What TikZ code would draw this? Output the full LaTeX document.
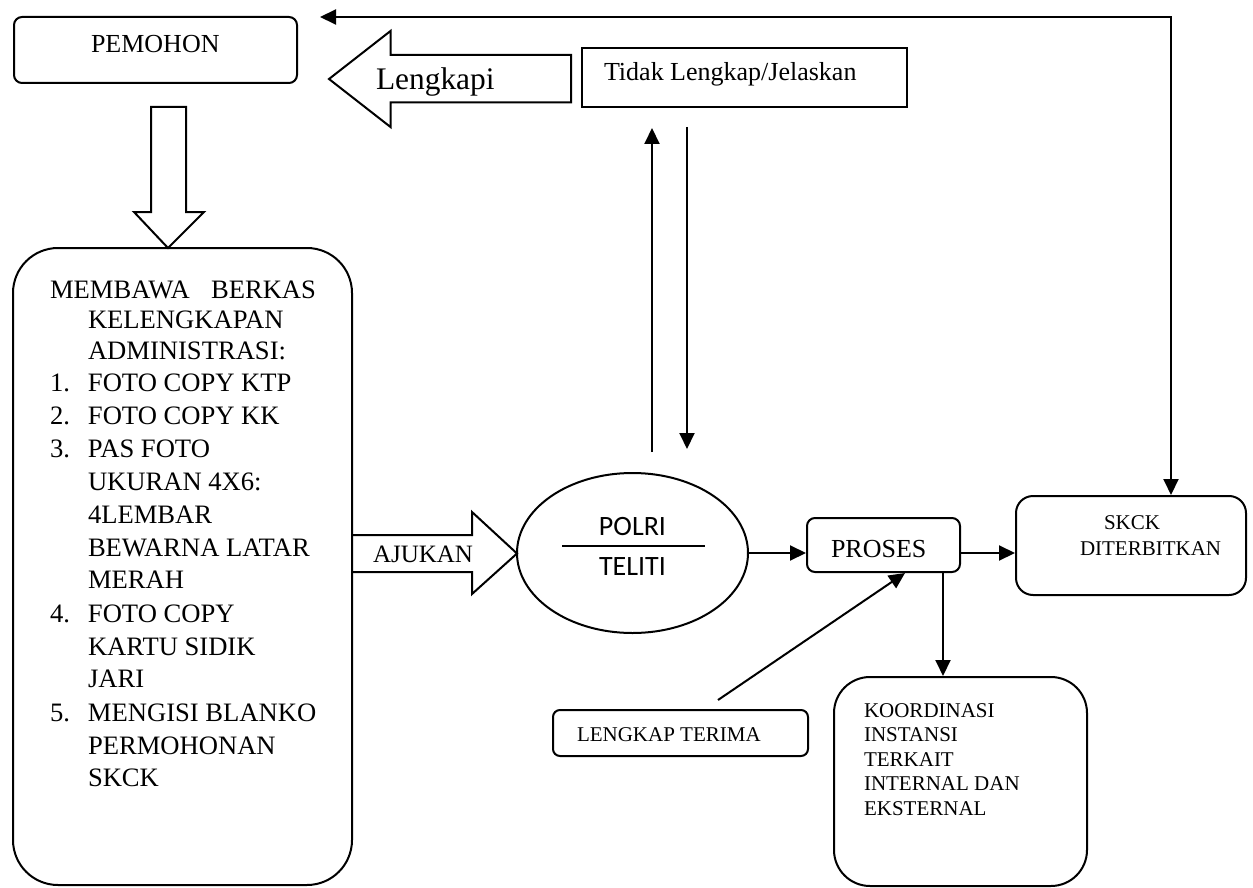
\documentclass[tikz,border=0pt]{standalone}
\usepackage{fontspec}
\setmainfont{Liberation Serif}
\newfontfamily\calibri{Carlito}
\usetikzlibrary{arrows.meta, shapes.geometric}

\begin{document}
\begin{tikzpicture}[x=0.5pt, y=-0.5pt, line width=1pt,
    kotak/.style={draw, rounded corners=#1, inner sep=0pt},
    kotak/.default=4pt,
    panah/.style={-{Triangle[length=8pt, width=7.5pt]}},
    teks/.style={anchor=base west, inner sep=0pt, align=left},
    kecil/.style={font=\fontsize{10.5}{12.25}\selectfont},
    besar/.style={font=\fontsize{13}{15}\selectfont}]
        \useasboundingbox (0,0) rectangle (1253,888);

        % kotak-kotak
        \node[kotak, minimum width=141.5pt, minimum height=33pt] (pemohon) at (155.5,50) {};
        \node[kotak=22.5pt, minimum width=169.5pt, minimum height=318.5pt] (berkas) at (182.5,566.5) {};
        \node[draw, inner sep=0pt, minimum width=162.5pt, minimum height=29.5pt] (tidak) at (744.5,77.5) {};
        \node[draw, ellipse, inner sep=0pt, minimum width=115.5pt, minimum height=80pt] (polri) at (632.5,553) {};
        \node[kotak, minimum width=76.5pt, minimum height=27pt] (proses) at (883.5,545) {};
        \node[kotak=8.5pt, minimum width=115pt, minimum height=49.5pt] (skck) at (1131,545.5) {};
        \node[kotak=3.5pt, minimum width=127.5pt, minimum height=23pt] (terima) at (680.5,733) {};
        \node[kotak=18pt, minimum width=126.5pt, minimum height=104.5pt] (koord) at (960.5,781.5) {};

        % teks
        \node[teks, besar] (tpemohon) at (90,53) {PEMOHON};
        \node[teks, font=\fontsize{13.3}{16.5}\selectfont] (daftar) at (49,298) {%
            \begin{tabular}[t]{@{}p{19pt}@{}l@{}}
            \multicolumn{2}{@{}l@{}}{\makebox[133pt][s]{MEMBAWA BERKAS}}\\[-1.25pt]
            & KELENGKAPAN\\[-1.25pt]
            & ADMINISTRASI:\\[-0.5pt]
            1. & FOTO COPY KTP\\
            2. & FOTO COPY KK\\
            3. & PAS FOTO\\
            & UKURAN 4X6:\\
            & 4LEMBAR\\
            & BEWARNA LATAR\\
            & MERAH\\
            4. & FOTO COPY\\
            & KARTU SIDIK\\
            & JARI\\
            5. & MENGISI BLANKO\\
            & PERMOHONAN\\
            & SKCK
            \end{tabular}};
        \node[teks, besar] (ttidak) at (603,81) {Tidak Lengkap/Jelaskan};
        \node[teks, font=\fontsize{15.7}{18}\selectfont] (lengkapi) at (375,90) {Lengkapi};
        \node[teks, font=\fontsize{12.5}{15}\selectfont] (ajukan) at (372,562) {AJUKAN};
        \node[anchor=base, inner sep=0pt, font=\calibri\fontsize{14}{16}\selectfont] (tpolri) at (632.5,535) {POLRI};
        \node[anchor=base, inner sep=0pt, font=\calibri\fontsize{14}{16}\selectfont] (tteliti) at (632.5,575) {TELITI};
        \node[teks, besar] (tproses) at (830,557) {PROSES};
        \node[teks, kecil] (tskck) at (1103,529) {SKCK};
        \node[teks, kecil] (tterbit) at (1079,555) {DITERBITKAN};
        \node[teks, kecil] (tterima) at (576,741) {LENGKAP TERIMA};
        \node[teks, kecil] (tkoord) at (863,717) {%
            \begin{tabular}[t]{@{}l@{}}
            KOORDINASI\\
            INSTANSI\\
            TERKAIT\\
            INTERNAL DAN\\
            EKSTERNAL
            \end{tabular}};

        % panah blok
        \draw (151,107) -- (186,107) -- (186,212) -- (204,212) -- (168,248)
            -- (134,212) -- (151,212) -- cycle;
        \draw (352,535) -- (472,535) -- (472,512) -- (517,553.5) -- (472,594)
            -- (472,572) -- (352,572);
        \draw (571,55) -- (390.5,55) -- (390.5,31) -- (329,79) -- (390.5,127)
            -- (390.5,102.5) -- (571,102.5) -- cycle;
        \draw[line width=0.75pt] (562,546) -- (705,546);

        % panah
        \coordinate (balik) at (320,17);
        \coordinate (naik) at (652,452);
        \coordinate (turun) at (687,127);
        \coordinate (mulai) at (718,700);
        \draw[panah] (polri.east) -- (polri.east -| proses.west);
        \draw[panah] (proses.east |- polri.east) -- (polri.east -| skck.west);
        \draw[{Triangle[length=8pt, width=7.5pt]}-{Triangle[length=8pt, width=7.5pt]}]
            (balik) -| ([xshift=20pt]skck.north);
        \draw[panah, shorten >=10pt] (naik) -- (naik |- tidak.south);
        \draw[panah, shorten >=11.5pt] (turun) -- (turun |- polri.north);
        \draw[panah] (mulai) -- ([xshift=10.75pt]proses.south);
        \draw[panah] ([xshift=29.75pt]proses.south) coordinate (bawah) -- (bawah |- koord.north);
    \end{tikzpicture}
\end{document}
